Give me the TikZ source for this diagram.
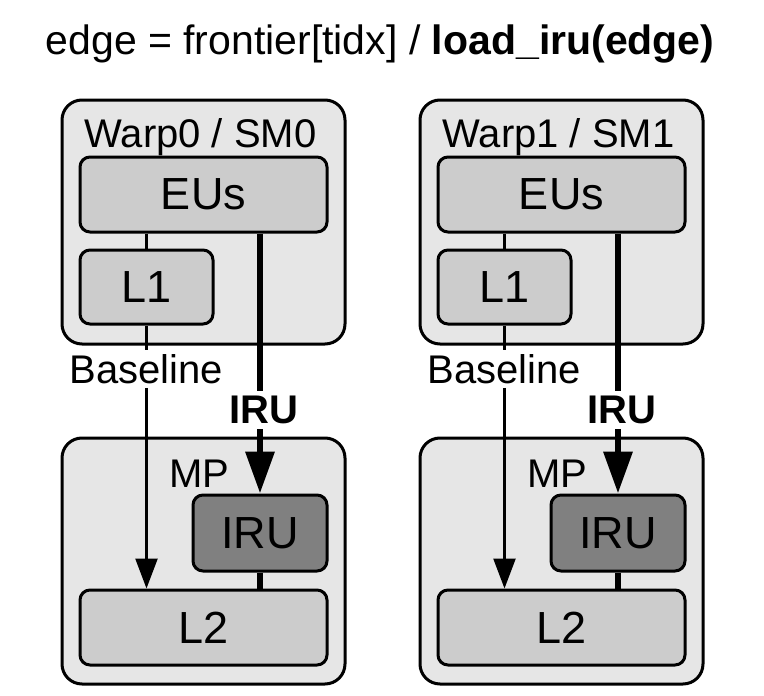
\documentclass[tikz,border=0pt]{standalone}
\usepackage{fontspec}
\setmainfont{Liberation Sans}
\usetikzlibrary{arrows.meta}
\definecolor{outerfill}{RGB}{230,230,230}
\definecolor{boxfill}{RGB}{204,204,204}
\definecolor{irufill}{RGB}{128,128,128}
\begin{document}
\begin{tikzpicture}[x=1pt,y=-1pt,
  outerbox/.style={draw,line width=3pt,fill=outerfill,rounded corners=20pt,inner sep=0pt},
  unitbox/.style={draw,line width=3pt,fill=boxfill,rounded corners=10pt,inner sep=0pt,font=\fontsize{45}{54}\selectfont},
  irubox/.style={unitbox,fill=irufill},
  lbl/.style={font=\fontsize{40}{48}\selectfont,inner sep=0pt},
  boldlbl/.style={font=\fontsize{40}{48}\selectfont\bfseries,inner sep=0pt},
  thinline/.style={line width=2.5pt},
  thickline/.style={line width=6.5pt},
  thinarrow/.style={thinline,-{Triangle[length=30pt,width=22pt]}},
  thickarrow/.style={thickline,-{Triangle[length=42pt,width=28pt]}}]
\useasboundingbox (0,0) rectangle (764,696);
\node[lbl,anchor=base,font=\fontsize{41}{49}\selectfont] (title) at (380,54) {edge = frontier[tidx] / \textbf{load\_iru(edge)}};
\foreach \i/\dx in {0/0,1/358}{
  \begin{scope}[xshift=\dx]
    \node[outerbox,minimum width=283pt,minimum height=244pt] (W\i) at (203.5,222) {};
    \node[lbl,anchor=base] (WL\i) at (200.5,147) {Warp\i{} / SM\i};
    \node[unitbox,minimum width=247pt,minimum height=75pt] (EU\i) at (203.5,194.5) {EUs};
    \node[unitbox,minimum width=133pt,minimum height=74pt] (L1\i) at (146.5,287) {L1};
    \node[lbl,inner ysep=4pt] (BL\i) at (146.5,369) {Baseline};
    \node[boldlbl,inner ysep=5pt] (IL\i) at (263.5,410) {IRU};
    \node[outerbox,minimum width=283pt,minimum height=246pt] (M\i) at (203.5,561) {};
    \node[lbl,anchor=base] (MPL\i) at (199,487) {MP};
    \node[irubox,minimum width=134pt,minimum height=76pt] (IR\i) at (260,533) {IRU};
    \node[unitbox,minimum width=247pt,minimum height=75pt] (L2\i) at (203.5,627.5) {L2};
    \draw[thinline] (L1\i.north |- EU\i.south) -- (L1\i.north);
    \draw[thinline] (L1\i.south) -- (L1\i.south |- BL\i.north);
    \draw[thinarrow] (BL\i.south) -- (BL\i.south |- L2\i.north);
    \draw[thickline] (IR\i.north |- EU\i.south) -- (IR\i.north |- IL\i.north);
    \draw[thickarrow] (IR\i.north |- IL\i.south) -- (IR\i.north);
    \draw[thickline] (IR\i.south) -- (IR\i.south |- L2\i.north);
  \end{scope}
}
\end{tikzpicture}
\end{document}
